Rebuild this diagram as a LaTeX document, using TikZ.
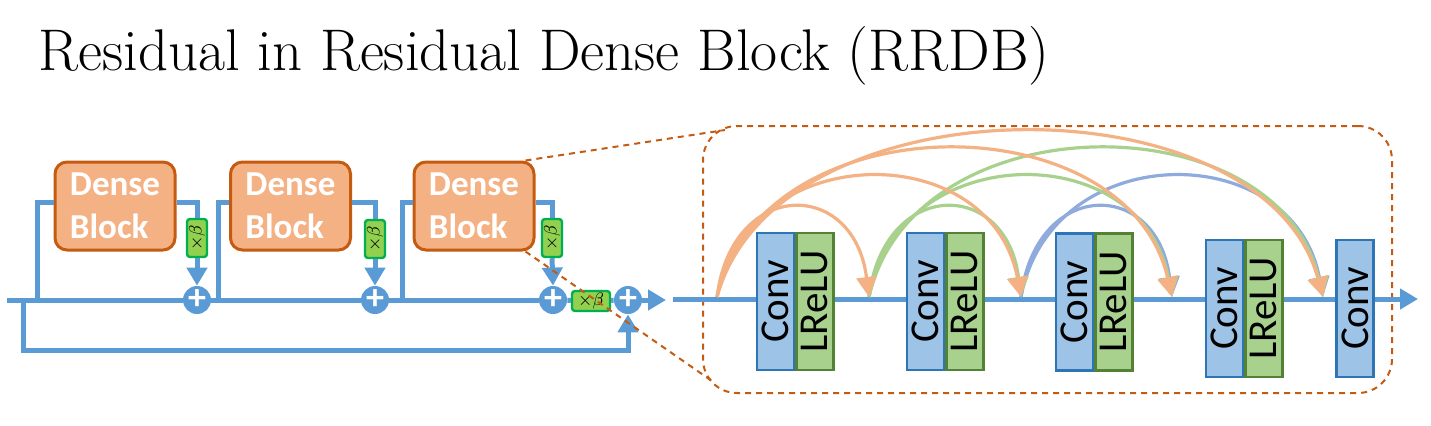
\documentclass[tikz,border=0pt]{standalone}
\usepackage{fontspec}
\newfontfamily\calibri{Carlito}
\usepackage{tikz}
\usetikzlibrary{arrows.meta, positioning}

\definecolor{lineblue}{HTML}{5B9BD5}
\definecolor{blockfill}{HTML}{F4B183}
\definecolor{blockedge}{HTML}{C55A11}
\definecolor{betafill}{HTML}{92D050}
\definecolor{betaedge}{HTML}{00B050}
\definecolor{convfill}{HTML}{9DC3E6}
\definecolor{convedge}{HTML}{2E75B6}
\definecolor{relufill}{HTML}{A9D18E}
\definecolor{reluedge}{HTML}{548235}
\definecolor{arcorange}{HTML}{F4B183}
\definecolor{arcgreen}{HTML}{A9D18E}
\definecolor{arcblue}{HTML}{8FAADC}

\tikzset{
  flow/.style={draw=lineblue, line width=2.5pt},
  flowarrow/.style={flow, -{Triangle[width=10pt,length=9pt]}},
  denseblock/.style={draw=blockedge, fill=blockfill, line width=1.5pt, rounded corners=6pt,
    minimum width=60pt, minimum height=44pt, align=left, text=white,
    font=\calibri\bfseries\fontsize{17.5}{21.5}\selectfont},
  betabox/.style={draw=betaedge, fill=betafill, line width=1.2pt, rounded corners=1.5pt,
    minimum width=19pt, minimum height=10pt, inner sep=0pt, font=\fontsize{9}{9}\selectfont},
  betavert/.style={betabox, minimum width=10pt, minimum height=19pt},
  addnode/.style={circle, fill=lineblue, minimum size=14pt, inner sep=0pt, text=white,
    font=\calibri\bfseries\fontsize{18}{18}\selectfont},
  convbox/.style={draw=convedge, fill=convfill, line width=1.2pt, minimum width=18.5pt,
    minimum height=68.5pt, inner sep=0pt, font=\calibri\fontsize{20.5}{20.5}\selectfont},
  relubox/.style={convbox, draw=reluedge, fill=relufill},
  zoombox/.style={draw=blockedge, line width=1pt, dash pattern=on 3pt off 2.5pt, rounded corners=17pt},
  zoomline/.style={draw=blockedge, line width=1pt, dash pattern=on 3pt off 2.5pt},
  densearc/.style={line width=1.6pt, -{Triangle[width=10pt,length=10pt]}},
}

\begin{document}
\begin{tikzpicture}[x=0.5pt, y=-0.5pt]
  \useasboundingbox (0,0) rectangle (1431,425);

  \node[anchor=base west, inner sep=0pt, font=\fontsize{29.4}{33}\selectfont] (title) at (38,70)
    {Residual in Residual Dense Block (RRDB)};

  % RRDB: three dense blocks
  \node[denseblock] (db1) at (115,206) {Dense\\Block};
  \node[denseblock] (db2) at (290.5,206) {Dense\\Block};
  \node[denseblock] (db3) at (474,206) {Dense\\Block};
  \node[betavert] (b1) at (197,238) {\rotatebox{90}{$\times\beta$}};
  \node[betavert] (b2) at (375,239) {\rotatebox{90}{$\times\beta$}};
  \node[betavert] (b3) at (552,238) {\rotatebox{90}{$\times\beta$}};
  \node[addnode] (add1) at (197,300) {+};
  \node[addnode] (add2) at (375,300) {+};
  \node[addnode] (add3) at (553,300) {+};
  \node[betabox] (bh) at (591,301) {$\times\beta$};
  \node[addnode] (add4) at (628,300) {+};

  \coordinate (in) at (7,300);
  \coordinate (s0) at (23,300);
  \coordinate (lowleft) at (23,350);
  \coordinate (s1) at (37,300);
  \coordinate (s2) at (218,300);
  \coordinate (s3) at (402,300);
  \coordinate (out) at (666,300);

  \draw[flow] (in) -- (add1);
  \draw[flow] (add1) -- (add2);
  \draw[flow] (add2) -- (add3);
  \draw[flow] (add3) -- (bh);
  \draw[flow] (bh) -- (add4);
  \draw[flowarrow] (add4) -- (out);
  \draw[flowarrow] (s0) -- (lowleft) -| (add4.south);

  \draw[flow] (s1) |- ([yshift=2pt]db1.west);
  \draw[flow] ([yshift=2pt]db1.east) -| (b1.north);
  \draw[flowarrow] (b1.south) -- (add1.north);
  \draw[flow] (s2) |- ([yshift=2pt]db2.west);
  \draw[flow] ([yshift=2pt]db2.east) -| (b2.north);
  \draw[flowarrow] (b2.south) -- (add2.north);
  \draw[flow] (s3) |- ([yshift=2pt]db3.west);
  \draw[flow] ([yshift=2pt]db3.east) -| (b3.north);
  \draw[flowarrow] (b3.south) -- (add3.north);

  % dense block in detail
  \node[zoombox, minimum width=344.5pt, minimum height=133.5pt] (zoom) at (1047.5,259.5) {};
  \coordinate (zt) at (725,130);
  \coordinate (zb) at (712,381);
  \coordinate (rin) at (673,299);
  \coordinate (rout) at (1418,299);
  \draw[flowarrow] (rin) -- (rout);

  \node[convbox] (c1) at (775.5,301.5) {\rotatebox{90}{Conv}};
  \node[relubox, right=0pt of c1] (l1) {\rotatebox{90}{LReLU}};
  \node[convbox] (c2) at (925.5,301.5) {\rotatebox{90}{Conv}};
  \node[relubox, right=0pt of c2] (l2) {\rotatebox{90}{LReLU}};
  \node[convbox] (c3) at (1074.5,302) {\rotatebox{90}{Conv}};
  \node[relubox, right=0pt of c3] (l3) {\rotatebox{90}{LReLU}};
  \node[convbox] (c4) at (1224.5,308.5) {\rotatebox{90}{Conv}};
  \node[relubox, right=0pt of c4] (l4) {\rotatebox{90}{LReLU}};
  \node[convbox] (c5) at (1355,308.5) {\rotatebox{90}{Conv}};

  \coordinate (p0) at (717,297);
  \coordinate (p1) at (869,297);
  \coordinate (p2) at (1021,297);
  \coordinate (p3) at (1172,297);
  \coordinate (p4) at (1323,297);

  \draw[densearc, arcblue] (p2) .. controls +(15,-119) and +(-15,-119) .. (p3);
  \draw[densearc, arcblue] (p2) .. controls +(30,-160) and +(-30,-160) .. (p4);
  \draw[densearc, arcgreen] (p1) .. controls +(15,-119) and +(-15,-119) .. (p2);
  \draw[densearc, arcgreen] (p1) .. controls +(30,-160) and +(-30,-160) .. (p3);
  \draw[densearc, arcgreen] (p1) .. controls +(45,-197) and +(-45,-197) .. (p4);
  \draw[densearc, arcorange] (p0) .. controls +(15,-119) and +(-15,-119) .. (p1);
  \draw[densearc, arcorange] (p0) .. controls +(30,-160) and +(-30,-160) .. (p2);
  \draw[densearc, arcorange] (p0) .. controls +(45,-197) and +(-45,-197) .. (p3);
  \draw[densearc, arcorange] (p0) .. controls +(60,-220) and +(-60,-220) .. (p4);

  \draw[zoomline] ([xshift=-5pt]db3.north east) -- (zt);
  \draw[zoomline] ([xshift=-5pt]db3.south east) -- (zb);
\end{tikzpicture}
\end{document}
